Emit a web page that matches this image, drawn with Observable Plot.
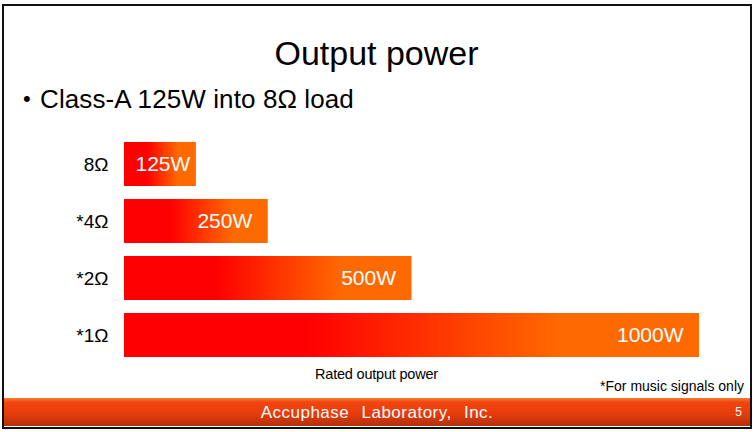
<!DOCTYPE html>
<html>
<head>
<meta charset="utf-8">
<script src="https://cdn.jsdelivr.net/npm/d3@7"></script>
<script src="https://cdn.jsdelivr.net/npm/@observablehq/plot@0.6"></script>
<style>
  html, body { margin: 0; padding: 0; background: #fff; }
  body { width: 753px; height: 432px; position: relative; overflow: hidden; font-family: "Liberation Sans", Arial, sans-serif; }
  #frame { position: absolute; left: 2px; top: 4px; width: 746px; height: 421px; border: 2px solid #111; box-sizing: content-box; }
  #title { position: absolute; left: 0; width: 753px; top: 34px; text-align: center; font-size: 34px; color: #000; }
  #bulletdot { position: absolute; left: 23px; top: 86px; font-size: 22px; color: #000; }
  #bullet { position: absolute; left: 40px; top: 84px; font-size: 26px; color: #000; letter-spacing: 0.1px; }
  #chart { position: absolute; left: 0; top: 132px; }
  #xlabel { position: absolute; left: 0; width: 753px; top: 366px; text-align: center; font-size: 14.5px; color: #000; letter-spacing: -0.2px; }
  #note { position: absolute; right: 9px; top: 378px; font-size: 14px; color: #000; }
  #footer { position: absolute; left: 4px; top: 398px; width: 746px; height: 28px; background: linear-gradient(to bottom, #f77a30 0%, #f24510 15%, #e83c0c 55%, #b3300c 100%); }
  #footer .name { position: absolute; left: 0; width: 100%; top: 5px; text-align: center; color: #fff; font-size: 17px; word-spacing: 7px; letter-spacing: 0.5px; }
  #footer .page { position: absolute; right: 8px; top: 7px; color: #fff; font-size: 12px; }
</style>
</head>
<body>
<div id="frame"></div>
<div id="title">Output power</div>
<div id="bulletdot">•</div>
<div id="bullet">Class-A 125W into 8Ω load</div>
<div id="chart"></div>
<div id="xlabel">Rated output power</div>
<div id="note">*For music signals only</div>
<div id="footer"><div class="name">Accuphase Laboratory, Inc.</div><div class="page">5</div></div>
<script>
const loads = ["8Ω", "*4Ω", "*2Ω", "*1Ω"];
const watts = [125, 250, 500, 1000];
const labels = ["125W", "250W", "500W", "1000W"];

const data = loads.map((l, i) => ({load: l, value: watts[i], label: labels[i]}));

const plot = Plot.plot({
  width: 753,
  height: 236,
  marginLeft: 124,
  marginRight: 54,
  marginTop: 9,
  marginBottom: 11,
  style: {background: "transparent", fontFamily: "'Liberation Sans', Arial, sans-serif"},
  x: {domain: [0, 1000], axis: null},
  y: {domain: loads, paddingInner: 0.23, paddingOuter: 0, label: null},
  marks: [
    Plot.axisY({tickSize: 0, tickPadding: 16, fontSize: 19, fill: "#000", label: null}),
    Plot.barX(data, {x: "value", y: "load", fill: "url(#barGrad)"}),
    Plot.text(data.filter(d => d.value >= 200), {x: "value", y: "load", text: "label", textAnchor: "end", dx: -16, fill: "#fff", fontSize: 21}),
    Plot.text(data.filter(d => d.value < 200), {x: "value", y: "load", text: "label", textAnchor: "end", dx: -6, fill: "#fff", fontSize: 21})
  ]
});

const defs = d3.select(plot).insert("defs", ":first-child");
const g = defs.append("linearGradient").attr("id", "barGrad").attr("x1", "0").attr("x2", "1").attr("y1", "0").attr("y2", "0");
g.append("stop").attr("offset", "0%").attr("stop-color", "#ff0000");
g.append("stop").attr("offset", "32%").attr("stop-color", "#ff0000");
g.append("stop").attr("offset", "76%").attr("stop-color", "#ff6a00");
g.append("stop").attr("offset", "100%").attr("stop-color", "#ff6a00");

document.getElementById("chart").appendChild(plot);
</script>
</body>
</html>
